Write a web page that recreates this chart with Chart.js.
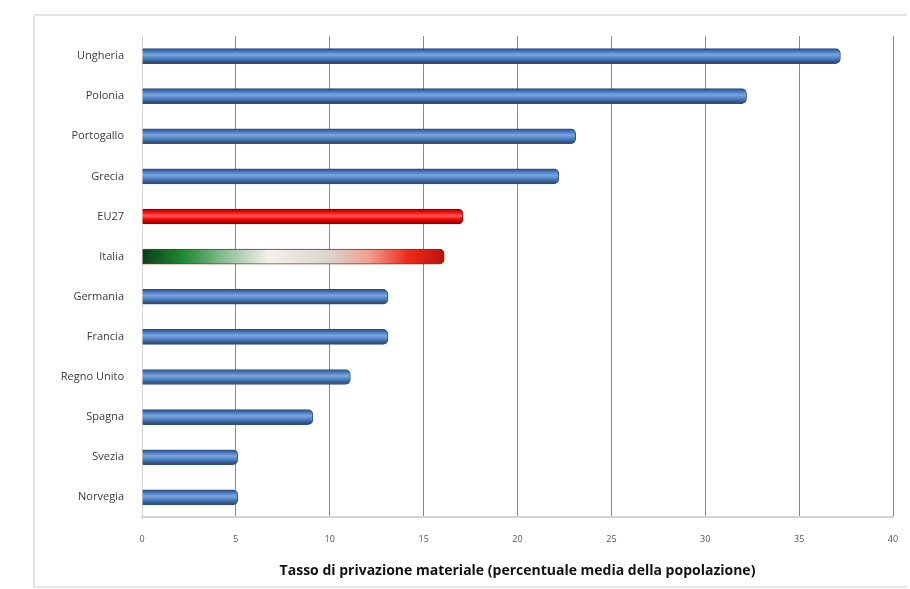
<!DOCTYPE html>
<html>
<head>
<meta charset="utf-8">
<script src="https://cdn.jsdelivr.net/npm/chart.js@4"></script>
<style>
  body { margin: 0; background: #fff; overflow: hidden; }
  #box {
    position: absolute; left: 33px; top: 14px;
    border: 2px solid #e4e4e4; border-right: none;
  }
</style>
</head>
<body>
<div id="box"><canvas id="grafico" width="872" height="570"></canvas></div>
<script>
const categorie = ['Ungheria', 'Polonia', 'Portogallo', 'Grecia', 'EU27', 'Italia',
  'Germania', 'Francia', 'Regno Unito', 'Spagna', 'Svezia', 'Norvegia']
const valori = [37.2, 32.2, 23.1, 22.2, 17.1, 16.1, 13.1, 13.1, 11.1, 9.1, 5.1, 5.1]
const tacche = [0, 5, 10, 15, 20, 25, 30, 35, 40]

const SPESSORE = 15

function tinta(nome) {
  if (nome === 'EU27') return '#ee0000'
  if (nome === 'Italia') return '#e8e4dc'
  return '#4f81bd'
}

// sfumatura "cilindro" per ogni barra
function riempimento(c) {
  const chart = c.chart
  const sx = chart.scales.x, sy = chart.scales.y
  const nome = categorie[c.dataIndex]
  if (!sx || !sy) return tinta(nome)
  const ctx = chart.ctx
  const yc = sy.getPixelForValue(c.dataIndex)
  const x0 = sx.getPixelForValue(0), x1 = sx.getPixelForValue(valori[c.dataIndex])
  if (![yc, x0, x1].every(Number.isFinite)) return tinta(nome)
  const y0 = yc - SPESSORE / 2, y1 = yc + SPESSORE / 2
  let g
  if (nome === 'Italia') {
    g = ctx.createLinearGradient(x0, y0, x1, y1)
    g.addColorStop(0, '#0b3d14')
    g.addColorStop(0.14, '#1f8a35')
    g.addColorStop(0.3, '#9fc7a4')
    g.addColorStop(0.42, '#f4f1ea')
    g.addColorStop(0.62, '#d9d5cc')
    g.addColorStop(0.75, '#f0a090')
    g.addColorStop(0.88, '#ee2a1c')
    g.addColorStop(1, '#b8140c')
    return g
  }
  g = ctx.createLinearGradient(0, y0, 0, y1)
  if (nome === 'EU27') {
    g.addColorStop(0, '#9a0000')
    g.addColorStop(0.25, '#ff1010')
    g.addColorStop(0.45, '#ff5a5a')
    g.addColorStop(0.7, '#f00000')
    g.addColorStop(1, '#8a0000')
  } else {
    g.addColorStop(0, '#2b4a7a')
    g.addColorStop(0.2, '#4a7bc0')
    g.addColorStop(0.42, '#7aa6e4')
    g.addColorStop(0.65, '#4f81bd')
    g.addColorStop(1, '#24406c')
  }
  return g
}

function bordo(c) {
  const nome = categorie[c.dataIndex]
  if (nome === 'EU27') return '#8a0000'
  if (nome === 'Italia') return '#6a3a2a'
  return '#2f4f80'
}

const grafico = new Chart(document.getElementById('grafico'), {
  type: 'bar',
  data: {
    labels: categorie,
    datasets: [{
      data: valori,
      backgroundColor: riempimento,
      borderColor: bordo,
      borderWidth: 1,
      borderSkipped: 'start',
      borderRadius: 5,
      barThickness: SPESSORE
    }]
  },
  options: {
    indexAxis: 'y',
    responsive: false,
    animation: false,
    layout: { padding: { top: 20, right: 14, bottom: 7, left: 0 } },
    plugins: { legend: { display: false }, tooltip: { enabled: false } },
    scales: {
      x: {
        min: 0,
        max: 40,
        afterBuildTicks: (s) => { s.ticks = tacche.map(v => ({ value: v })) },
        afterFit: (s) => { s.paddingLeft = 0; s.paddingRight = 0 },
        grid: { color: '#8a8a8a', lineWidth: 1, drawTicks: false },
        border: { color: '#d4d4d4', width: 2 },
        ticks: {
          padding: 17,
          color: '#555',
          font: { family: 'Open Sans', size: 9 }
        },
        title: {
          display: true,
          text: 'Tasso di privazione materiale (percentuale media della popolazione)',
          color: '#111',
          font: { family: 'Open Sans', size: 14, weight: 'bold' },
          padding: { top: 0, bottom: 0 }
        }
      },
      y: {
        afterFit: (s) => { s.width = 107; s.paddingTop = 0; s.paddingBottom = 0 },
        grid: { display: false, drawTicks: false },
        border: { color: '#d4d4d4', width: 1 },
        ticks: {
          padding: 18,
          color: '#3a3a3a',
          font: { family: 'Open Sans', size: 11 }
        }
      }
    }
  }
})
grafico.update()
</script>
</body>
</html>
